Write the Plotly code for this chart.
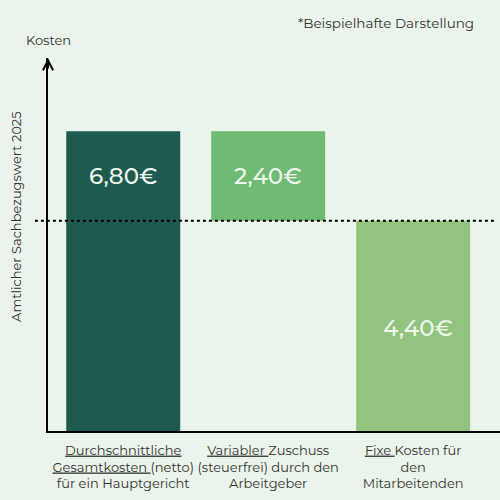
import plotly.graph_objects as go

# bar geometry (y axis has no ticks; unit = value of bar 1)
categories = [0, 1, 2]
bar_base = [0.0, 4.77, 0.0]
bar_height = [6.80, 2.03, 4.77]
value_labels = ["6,80€", "2,40€", "4,40€"]
bar_colors = ["#1f5a4f", "#6fbb73", "#93c47f"]
tick_labels = [
    "<u>Durchschnittliche</u><br><u>Gesamtkosten </u>(netto)<br>für ein Hauptgericht",
    "<u>Variabler </u>Zuschuss<br>(steuerfrei) durch den<br>Arbeitgeber",
    "<u>Fixe </u>Kosten für<br>den<br>Mitarbeitenden",
]
reference_level = 4.77

BG = "#eaf4eb"
FONT = "Montserrat, Open Sans, sans-serif"

fig = go.Figure()
fig.add_trace(go.Bar(
    x=categories, y=bar_height, base=bar_base,
    width=0.786,
    marker=dict(color=bar_colors, line=dict(width=0)),
    hoverinfo="skip",
))

# value labels inside bars
for i, txt in enumerate(value_labels):
    top = bar_base[i] + bar_height[i]
    if i < 2:
        y, ys, xs = top, -45, 0
    else:
        y, ys, xs = bar_base[i] + bar_height[i] / 2, -2, 5
    fig.add_annotation(x=categories[i], y=y, text=txt, showarrow=False,
                       xshift=xs, yshift=ys,
                       font=dict(family=FONT, size=23, color="#eef6ee", weight=500))

# dotted reference line
fig.add_shape(type="line", xref="paper", yref="y",
              x0=-0.029, x1=0.989, y0=reference_level, y1=reference_level,
              line=dict(color="black", width=2, dash="dot"))

# arrow head on y axis
fig.add_annotation(xref="paper", yref="paper", x=0, y=1, ax=0, ay=12,
                   showarrow=True, arrowhead=5, arrowsize=1, arrowwidth=2,
                   arrowcolor="black", text="")

fig.add_annotation(xref="paper", yref="paper", x=0, y=1, yshift=18,
                   xanchor="center", yanchor="middle",
                   text="Kosten", showarrow=False,
                   font=dict(family=FONT, size=13, color="#333"))
fig.add_annotation(xref="paper", yref="paper", x=0.947, y=1.094,
                   xanchor="right", yanchor="middle",
                   text="*Beispielhafte Darstellung", showarrow=False,
                   font=dict(family=FONT, size=13.5, color="#333"))
fig.add_annotation(xref="paper", yref="paper", x=0, y=0.574, xshift=-32,
                   xanchor="center", yanchor="middle",
                   text="Amtlicher Sachbezugswert 2025", textangle=-90, showarrow=False,
                   font=dict(family=FONT, size=13, color="#333"))

fig.update_layout(
    width=500, height=500,
    margin=dict(l=48, r=0, t=58, b=69),
    paper_bgcolor=BG, plot_bgcolor=BG,
    showlegend=False,
    xaxis=dict(range=[-0.519, 2.599], tickvals=categories, ticktext=tick_labels,
               showline=True, linecolor="black", linewidth=2, showgrid=False,
               zeroline=False, ticks="", automargin=False, ticklabelstandoff=6,
               tickfont=dict(family=FONT, size=13, color="#333")),
    yaxis=dict(range=[0, 8.46], showline=True, linecolor="black", linewidth=2,
               showgrid=False, zeroline=False, showticklabels=False, ticks="",
               automargin=False),
)

# drop the default page margin so the figure sits at the window's corner
fig.write_html("out.html", config={"displayModeBar": False},
               post_script="document.body.style.margin='0';document.body.style.background='%s';" % BG)
